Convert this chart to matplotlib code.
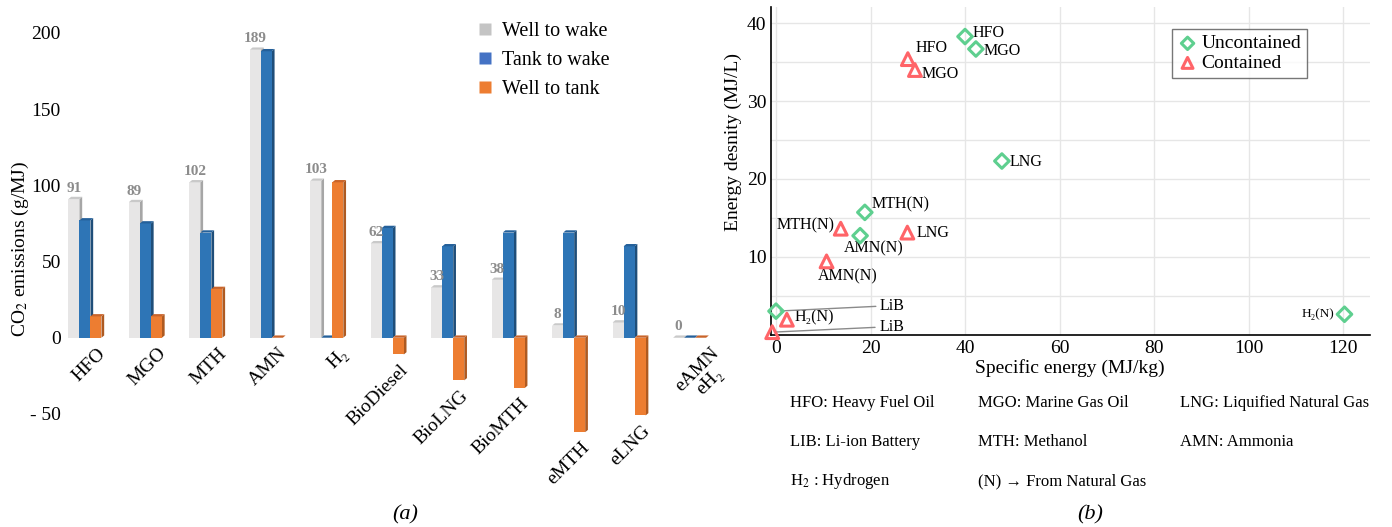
import matplotlib
matplotlib.use("Agg")
import matplotlib.pyplot as plt
from matplotlib.lines import Line2D
from matplotlib.patches import Polygon
import numpy as np

plt.rcParams['font.family'] = ['Liberation Serif', 'DejaVu Serif']
plt.rcParams['mathtext.fontset'] = 'stix'

# ---------------- data (a) ----------------
fuels = ["HFO", "MGO", "MTH", "AMN", "H₂", "BioDiesel", "BioLNG", "BioMTH", "eMTH", "eLNG", "eAMN\neH₂"]
well_to_wake = [91, 89, 102, 189, 103, 62, 33, 38, 8, 10, 0]
tank_to_wake = [77, 75, 69, 188, 0, 72, 60, 69, 69, 60, 0]
well_to_tank = [14, 14, 32, 0, 102, -11, -28, -33, -62, -51, 0]
series_names = ["Well to wake", "Tank to wake", "Well to tank"]
yticks_a = [-50, 0, 50, 100, 150, 200]
yticklabels_a = ["- 50", "0", "50", "100", "150", "200"]

# ---------------- data (b) ----------------
unc_names = ["HFO", "MGO", "LNG", "MTH(N)", "AMN(N)", "LiB", "H₂(N)"]
unc_x = [40.0, 42.3, 47.8, 18.8, 17.8, 0.0, 120.3]
unc_y = [38.3, 36.7, 22.3, 15.7, 12.7, 3.0, 2.6]
con_names = ["HFO", "MGO", "MTH(N)", "LNG", "AMN(N)", "H₂(N)", "LiB"]
con_x = [27.9, 29.4, 13.7, 27.8, 10.7, 2.3, -0.8]
con_y = [35.4, 34.0, 13.6, 13.1, 9.4, 1.9, 0.3]
abbrevs = [["HFO: Heavy Fuel Oil", "MGO: Marine Gas Oil", "LNG: Liquified Natural Gas"],
           ["LIB: Li-ion Battery", "MTH: Methanol", "AMN: Ammonia"],
           ["H$_2$ : Hydrogen", "(N) → From Natural Gas", ""]]

W, H = 1392, 527
fig = plt.figure(figsize=(W / 100, H / 100), dpi=100)

# ================= panel (a) =================
axL, axR_px, axT, axB = 65, 715, 17.75, 452
ax = fig.add_axes([axL / W, 1 - axB / H, (axR_px - axL) / W, (axB - axT) / H])
ax.set_xlim(-0.33, 10.42)
ax.set_ylim(-75, 210)
for s in ax.spines.values():
    s.set_visible(False)
ax.set_xticks([])
ax.set_yticks(yticks_a)
ax.set_yticklabels(yticklabels_a, fontsize=14)
ax.tick_params(axis='y', length=0, pad=3)

front_cols = ["#e7e6e6", "#2e75b6", "#ed7d31"]
side_cols = ["#a6a6a6", "#1f4e79", "#ae5a21"]
top_cols = ["#c9c9c9", "#24609a", "#c9642a"]
legend_cols = ["#c4c4c4", "#4472c4", "#ed7d31"]
bw = 0.182
ddx, ddy = 0.045, 1.5
xs = np.arange(len(fuels))
all_series = [well_to_wake, tank_to_wake, well_to_tank]
for si, vals in enumerate(all_series):
    x0s = xs + (si - 1) * bw - bw / 2
    z = 2 + si
    ax.bar(x0s, vals, width=bw, align='edge', color=front_cols[si],
           edgecolor='none', zorder=z + 0.2)
    for x0, v in zip(x0s, vals):
        x1 = x0 + bw
        top, bot = max(0, v), min(0, v)
        side = Polygon([(x1, top), (x1 + ddx, top + ddy), (x1 + ddx, bot + ddy), (x1, bot)],
                       closed=True, facecolor=side_cols[si], edgecolor='none', zorder=z + 0.1)
        topf = Polygon([(x0, top), (x1, top), (x1 + ddx, top + ddy), (x0 + ddx, top + ddy)],
                       closed=True, facecolor=top_cols[si], edgecolor='none', zorder=z + 0.3)
        ax.add_patch(side)
        ax.add_patch(topf)

# value labels for well-to-wake
for x, v in zip(xs, well_to_wake):
    t = ax.annotate(str(v), xy=(x - bw, v + ddy), xytext=(0, 2), textcoords='offset pixels',
                    ha='center', va='bottom', fontsize=11, fontweight='bold', color='#8c8c8c')
    t.set_zorder(20)

# category labels under lowest point
for x, name, a, b, c in zip(xs, fuels, well_to_wake, tank_to_wake, well_to_tank):
    low = min(0, a, b, c)
    extra = 9 * name.count('\n')
    ax.annotate(name, xy=(x, low), xytext=(12 + extra, -7), textcoords='offset pixels',
                ha='right', va='top', rotation=45, rotation_mode='anchor',
                multialignment='center', fontsize=14, linespacing=1.0)

handles = [Line2D([], [], marker='s', linestyle='none', markersize=8, markerfacecolor=c,
                  markeredgecolor='none') for c in legend_cols]
fig.legend(handles, series_names, loc='upper left', bbox_to_anchor=(477 / W, 1 - 22 / H),
           frameon=False, fontsize=14.5, handlelength=0.8, handletextpad=0.45, labelspacing=0.5,
           borderaxespad=0, borderpad=0)

fig.text(20 / W, 1 - 249 / H, "CO$_2$ emissions (g/MJ)", rotation=90, ha='center', va='center',
         fontsize=14)
fig.text(405 / W, 1 - 515 / H, "(a)", ha='center', va='center', fontsize=16, style='italic')

# ================= panel (b) =================
bL, bR, bT, bB = 770.7, 1370, 7, 334.5
bx = fig.add_axes([bL / W, 1 - bB / H, (bR - bL) / W, (bB - bT) / H])
bx.set_xlim(-1.12, 125.7)
bx.set_ylim(0, 42.1)
bx.spines['top'].set_visible(False)
bx.spines['right'].set_visible(False)
bx.spines['left'].set_linewidth(1.2)
bx.spines['bottom'].set_linewidth(1.2)
bx.set_xticks([0, 20, 40, 60, 80, 100, 120])
bx.set_yticks([10, 20, 30, 40])
bx.set_yticks([5, 15, 25, 35], minor=True)
bx.tick_params(axis='both', which='both', length=0, labelsize=14)
bx.tick_params(axis='y', pad=3)
bx.tick_params(axis='x', pad=4)
bx.grid(True, which='major', color='#e6e6e6', linewidth=1)
bx.grid(True, which='minor', axis='y', color='#e6e6e6', linewidth=1)
bx.set_axisbelow(True)

green = '#5ecf8f'
red = '#ff6468'
bx.scatter(unc_x, unc_y, marker='D', s=55, facecolors='none', edgecolors=green, linewidths=2.2,
           zorder=5, clip_on=False, label='Uncontained')
bx.scatter(con_x, con_y, marker='^', s=85, facecolors='none', edgecolors=red, linewidths=2.2,
           zorder=5, clip_on=False, label='Contained')

pfs = 11.5
unc_off = [(8, 4, 'left'), (8, -2, 'left'), (8, -1, 'left'), (7, 8, 'left'), (14, -13, 'center')]
for name, x, y, (ox, oy, ha) in zip(unc_names[:5], unc_x[:5], unc_y[:5], unc_off):
    bx.annotate(name, xy=(x, y), xytext=(ox, oy), textcoords='offset pixels', ha=ha, va='center',
                fontsize=pfs)
con_off = [(8, 11, 'left'), (7, -4, 'left'), (-6, 3, 'right'), (9, 0, 'left'), (21, -15, 'center'),
           (8, 2, 'left')]
for name, x, y, (ox, oy, ha) in zip(con_names[:6], con_x[:6], con_y[:6], con_off):
    bx.annotate(name, xy=(x, y), xytext=(ox, oy), textcoords='offset pixels', ha=ha, va='center',
                fontsize=pfs)
# H2(N) uncontained (far right)
bx.annotate(unc_names[6], xy=(unc_x[6], unc_y[6]), xytext=(-10, 0), textcoords='offset pixels',
            ha='right', va='center', fontsize=9.5)
# LiB leader labels
bx.annotate(unc_names[5], xy=(unc_x[5], unc_y[5]), xytext=(104, 5), textcoords='offset pixels',
            ha='left', va='center', fontsize=pfs,
            arrowprops=dict(arrowstyle='-', color='#8a8a8a', lw=1, shrinkA=1, shrinkB=3, relpos=(0, 0.5)))
bx.annotate(con_names[6], xy=(con_x[6], con_y[6]), xytext=(107, 5), textcoords='offset pixels',
            ha='left', va='center', fontsize=pfs, annotation_clip=False,
            arrowprops=dict(arrowstyle='-', color='#8a8a8a', lw=1, shrinkA=1, shrinkB=2, relpos=(0, 0.5)))

leg = bx.legend(loc='upper left', bbox_to_anchor=((1172 - bL) / (bR - bL), 1 - (29 - bT) / (bB - bT)),
                fontsize=14, frameon=True, fancybox=False, edgecolor='#555555', borderpad=0.3,
                labelspacing=0.1, handletextpad=0.2, handlelength=1.0, borderaxespad=0,
                scatterpoints=1, markerscale=0.85)
leg.get_frame().set_linewidth(1)

fig.text(1070 / W, 1 - 368 / H, "Specific energy (MJ/kg)", ha='center', va='center', fontsize=14)
fig.text(733 / W, 1 - 142 / H, "Energy desnity (MJ/L)", rotation=90, ha='center', va='center',
         fontsize=14)

col_x = [790, 978, 1180]
row_y = [403, 442, 481]
for r, row in enumerate(abbrevs):
    for c, t in enumerate(row):
        if t:
            fig.text(col_x[c] / W, 1 - row_y[r] / H, t, ha='left', va='center', fontsize=12)
fig.text(1090 / W, 1 - 515 / H, "(b)", ha='center', va='center', fontsize=16, style='italic')

fig.savefig("out.png", dpi=100)
